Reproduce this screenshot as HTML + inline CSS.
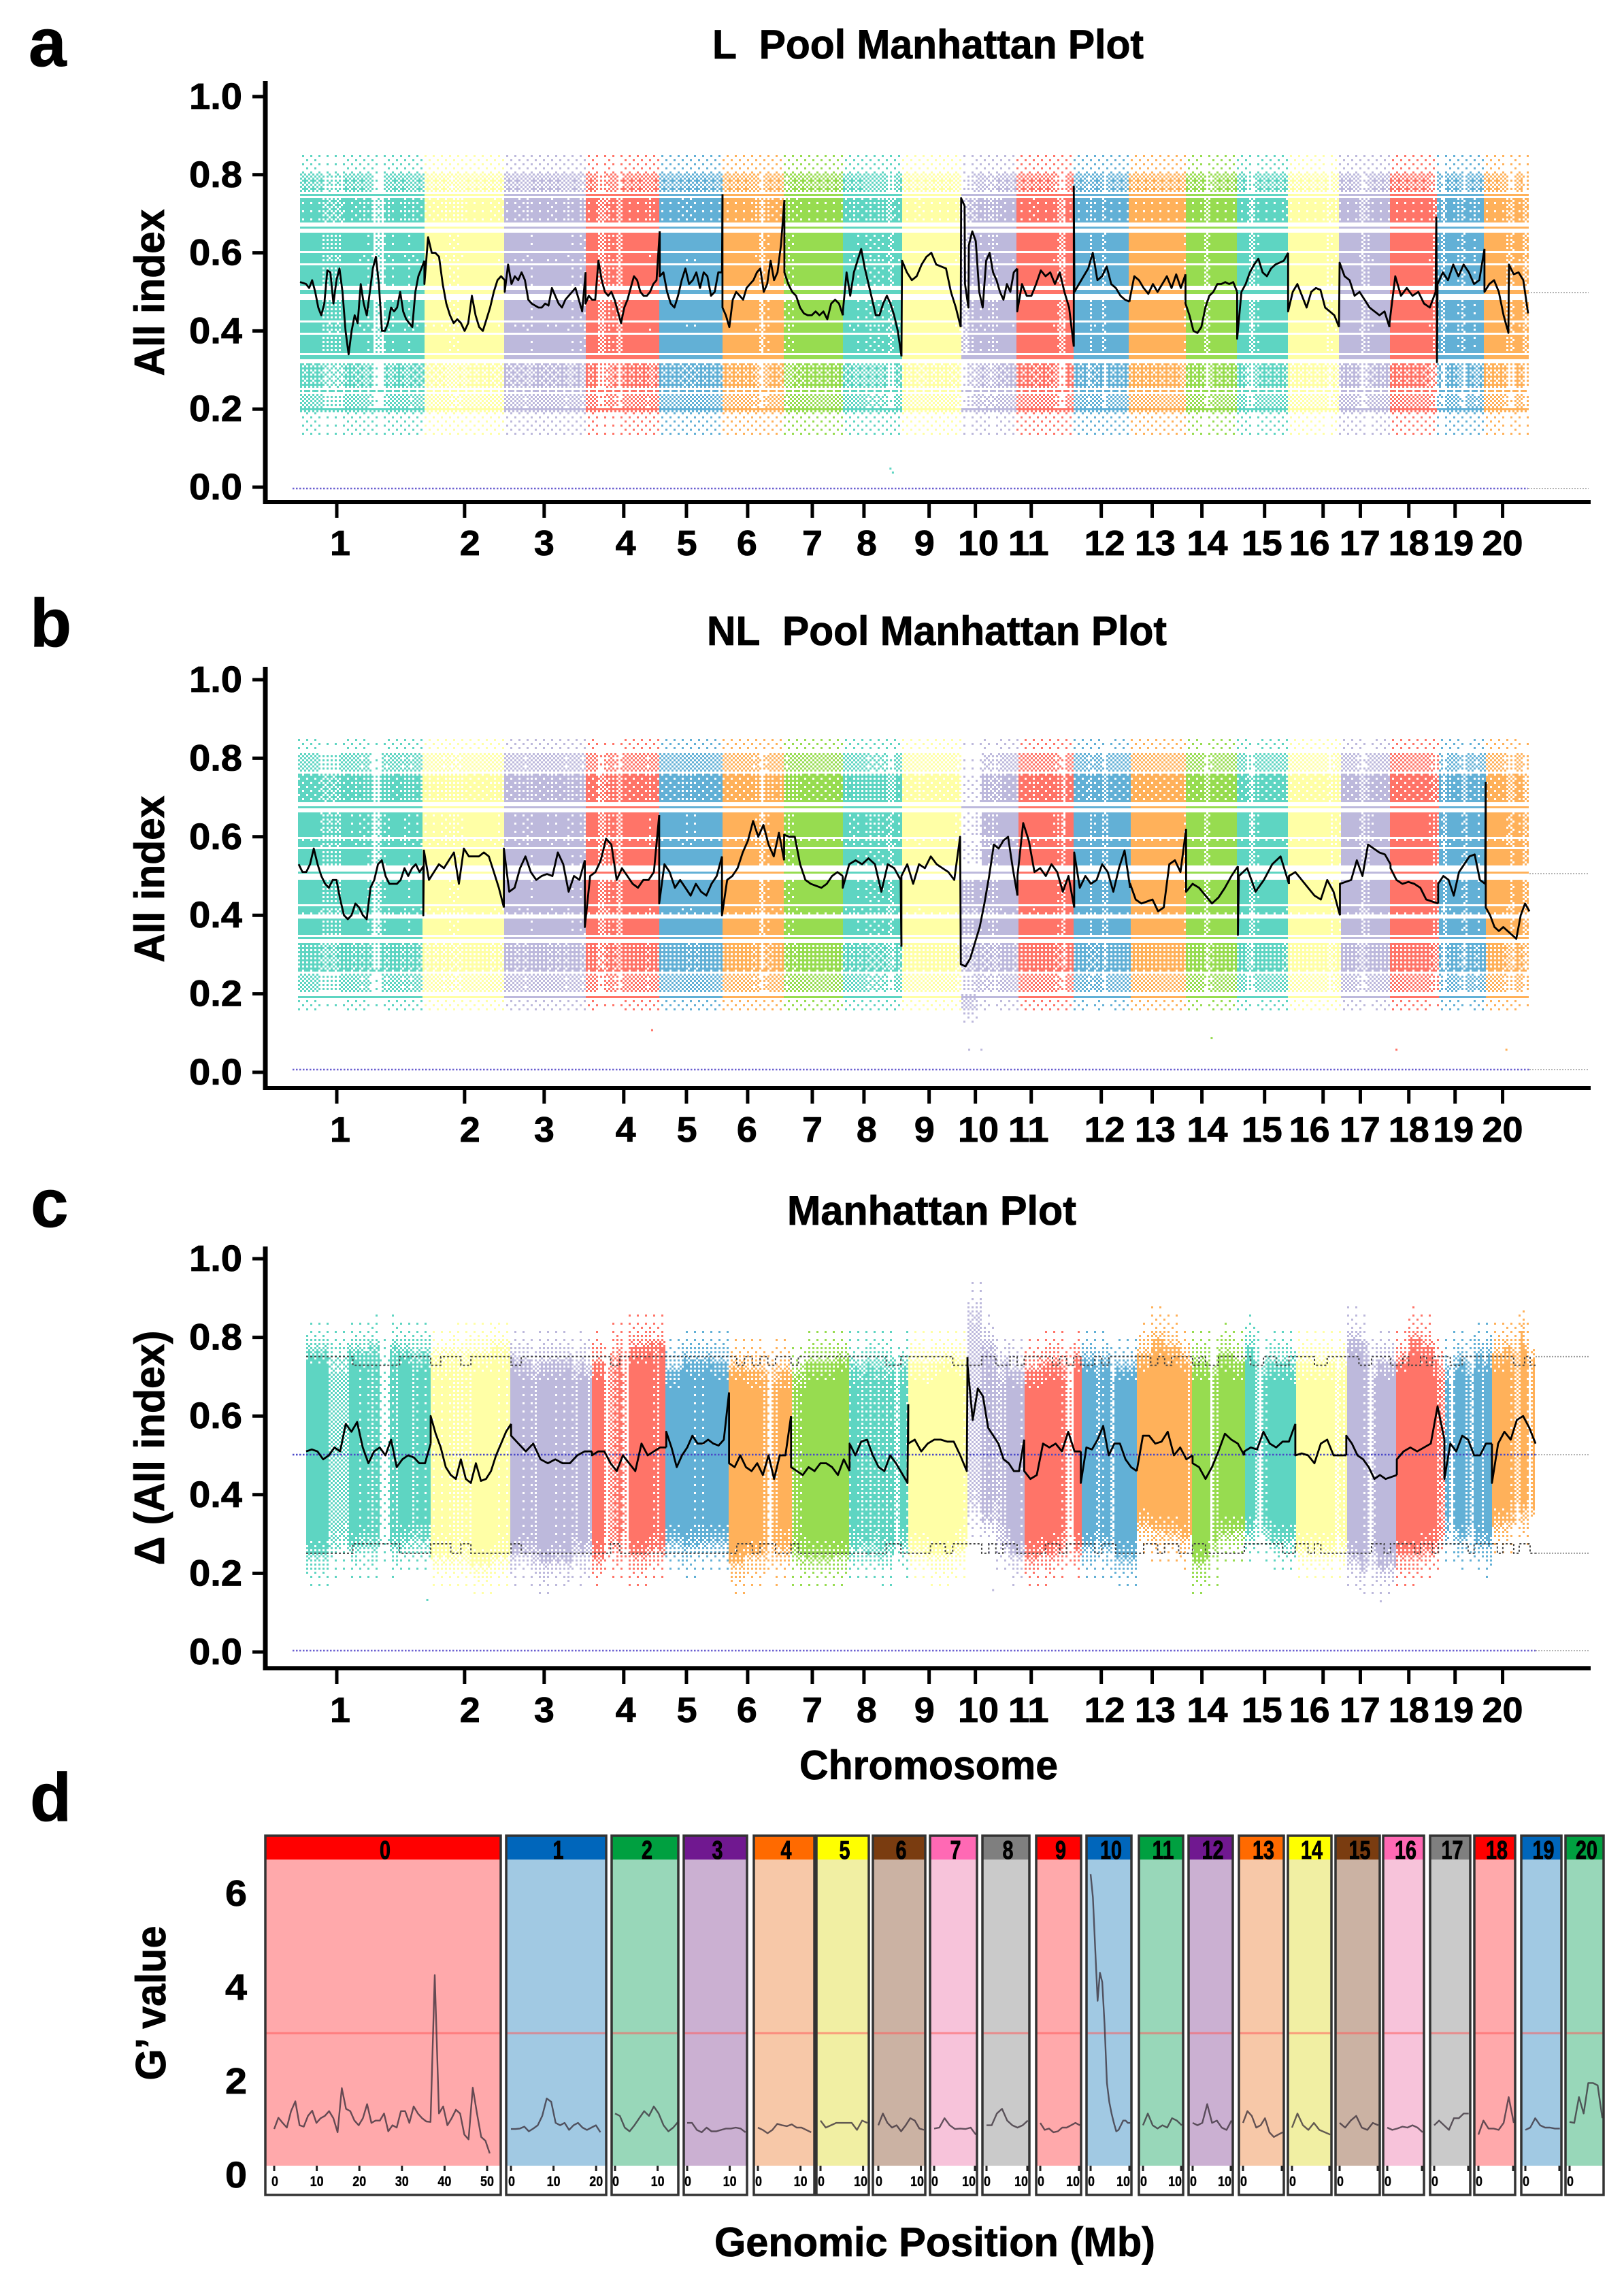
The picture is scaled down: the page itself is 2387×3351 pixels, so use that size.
<!DOCTYPE html>
<html lang="en">
<head>
<meta charset="utf-8">
<title>Manhattan plots and G' value plot</title>
<style>
html,body{margin:0;padding:0;background:#fff}
svg{display:block;position:absolute;left:0;top:0}
text{font-family:"Liberation Sans",Arial,sans-serif;font-weight:bold;fill:#000;stroke:#000;stroke-width:.8px}
</style>
</head>
<body>
<svg id="figure" xmlns="http://www.w3.org/2000/svg" width="2387" height="3351" viewBox="0 0 2387 3351">
  <rect x="0" y="0" width="2387" height="3351" fill="#fff"/>
  <g id="panel-a"></g>
  <g id="panel-b"></g>
  <g id="panel-c"></g>
  <g id="panel-d"></g>

  <text x="42" y="97" font-size="100">a</text>
  <text x="44" y="950" font-size="100">b</text>
  <text x="45" y="1803" font-size="100">c</text>
  <text x="44" y="2676" font-size="100">d</text>

  <text x="1047" y="86" font-size="60" textLength="634" lengthAdjust="spacingAndGlyphs">L&#160; Pool Manhattan Plot</text>
  <text x="1039" y="948" font-size="60" textLength="676" lengthAdjust="spacingAndGlyphs">NL&#160; Pool Manhattan Plot</text>
  <text x="1157" y="1800" font-size="60" textLength="425" lengthAdjust="spacingAndGlyphs">Manhattan Plot</text>

  <text transform="translate(241,430) rotate(-90)" text-anchor="middle" font-size="62" textLength="245" lengthAdjust="spacingAndGlyphs">All index</text>
  <text transform="translate(241,1292) rotate(-90)" text-anchor="middle" font-size="62" textLength="245" lengthAdjust="spacingAndGlyphs">All index</text>
  <text transform="translate(241,2128) rotate(-90)" text-anchor="middle" font-size="62" textLength="345" lengthAdjust="spacingAndGlyphs">Δ (All index)</text>
  <text transform="translate(243,2944) rotate(-90)" text-anchor="middle" font-size="62" textLength="227" lengthAdjust="spacingAndGlyphs">G’ value</text>

  <text x="1175" y="2615" font-size="60" textLength="380" lengthAdjust="spacingAndGlyphs">Chromosome</text>
  <text x="1050" y="3316" font-size="60" textLength="648" lengthAdjust="spacingAndGlyphs">Genomic Position (Mb)</text>
</svg>

<script>
/* ---------- chromosome data (Mb) ---------- */
const chromLengths = [50.8,32.8,33,30.3,25.6,25.3,23.9,23.9,24.2,23.1,23.1,22.8,22.8,21.1,20.8,20.8,20.6,19.4,19.4,17.8];
const chromLabels = ['1','2','3','4','5','6','7','8','9','10','11','12','13','14','15','16','17','18','19','20'];
const tickMb = [15,67.2,99.7,132.2,157.8,182.8,209.2,230.3,256.9,275.8,298.6,327.2,348,368.3,393.9,417.8,433,452.8,471.7,491.1];
const labelMb = [16.4,69.4,99.7,133,158,182.5,209.2,231.4,255,277,297.5,328.6,349.2,370.5,392.8,412.2,432.8,452.8,471,491.1];
const yTickValues = [0,0.2,0.4,0.6,0.8,1];
const yTickLabels = ['0.0','0.2','0.4','0.6','0.8','1.0'];

/* marker density along each chromosome (12 bins, 0..1) */
const markerDensity = [
[1,1,.7,.7,1,.95,.9,.3,.9,1,.9,.95],
[.95,.95,.95,.9,.85,.9,1,1,1,1,.95,.95],
[1,.95,.95,.9,1,1,.95,.95,1,.9,1,.85],
[1,1,.5,.75,.9,.55,1,1,1,1,.9,1],
[1,1,1,1,.95,.95,.95,1,1,1,1,1],
[1,1,1,1,1,1,.9,.3,.85,.95,1,.95],
[.85,.9,.95,1,1,1,1,1,1,1,1,1],
[.95,.95,.9,.95,.9,.85,.9,.85,.9,.6,.95,.95],
[1,1,1,.95,1,1,1,1,1,1,.95,.9],
[.7,.7,.75,.9,.9,.8,.75,.8,.95,1,1,.95],
[1,1,1,.95,1,1,1,.95,.85,.45,1,1],
[1,1,1,.8,.95,1,.6,1,1,1,1,1],
[1,1,1,1,1,1,1,1,1,1,1,.9],
[1,1,1,1,.5,.85,1,1,1,1,1,1],
[1,1,.7,.45,.9,1,1,1,1,1,1,.95],
[1,1,1,1,1,1,1,1,1,.7,.9,.9],
[1,1,1,1,.9,.55,.75,.95,1,1,1,1],
[1,1,1,1,1,1,1,1,1,.95,.8,.7],
[.9,.4,.95,1,1,.85,.6,1,1,.85,1,1],
[1,1,1,1,1,.9,.65,.55,1,.95,.45,.9]];

/* horizontal allele-index strata in panels a and b */
const rowHighA = [.848,.801,.7525,.740,.6675,.652,.600,.568,.5035,.481,.421,.388,.3355,.316,.2505,.241,.2005,.190];
const rowLowA  = [.801,.758,.7455,.679,.6605,.606,.574,.518,.4965,.427,.394,.344,.3285,.255,.2435,.203,.1935,.133];
const rowDensA = [.12,.56,1,.88,1,1,.94,1,1,1,.94,1,1,.66,.85,.5,.7,.1];
const rowHighB = [.855,.812,.761,.6775,.662,.594,.569,.5125,.488,.424,.394,.3465,.329,.2615,.249,.1965,.19];
const rowLowB  = [.817,.765,.690,.6705,.600,.575,.526,.5055,.430,.400,.352,.3395,.263,.2545,.207,.1895,.155];
const rowDensB = [.1,.5,.82,1,.95,.9,1,1,1,.9,1,1,.72,.85,.5,.7,.09];
const rowSolidMin = 0.0125;

/* envelope of the delta scatter in panel c (4 bins per chromosome) */
const deltaTop = [
[.77,.77,.79,.77],[.76,.77,.76,.78],[.75,.74,.75,.74],[.74,.78,.78,.79],[.72,.75,.75,.74],
[.73,.72,.73,.72],[.72,.74,.74,.75],[.74,.75,.75,.74],[.74,.74,.75,.75],[.90,.80,.75,.72],
[.72,.74,.74,.75],[.75,.75,.73,.73],[.76,.80,.78,.75],[.74,.74,.76,.74],[.78,.74,.74,.74],
[.74,.74,.74,.75],[.80,.79,.75,.74],[.75,.80,.78,.75],[.74,.75,.76,.76],[.76,.78,.82,.78]];
const deltaBottom = [
[.25,.27,.26,.28],[.24,.23,.22,.24],[.25,.23,.23,.25],[.24,.25,.25,.26],[.28,.27,.28,.28],
[.23,.25,.24,.26],[.24,.24,.24,.25],[.26,.25,.24,.27],[.26,.25,.25,.26],[.36,.33,.27,.25],
[.24,.25,.26,.26],[.27,.27,.24,.24],[.32,.31,.30,.29],[.23,.24,.30,.31],[.30,.30,.28,.28],
[.26,.26,.26,.26],[.24,.21,.21,.22],[.25,.25,.26,.27],[.30,.29,.28,.27],[.32,.33,.34,.35]];

/* threshold step flags, 8 bins per chromosome */
const upperDips = [
[0,0,0,1,1,1,0,0],[1,0,0,1,0,0,0,0],[1,0,0,0,0,0,0,0],[0,0,1,0,0,0,0,0],[0,0,0,0,0,0,0,0],
[0,1,0,1,0,1,0,0],[1,0,0,0,0,0,0,0],[0,0,0,0,0,1,1,0],[0,0,0,0,0,0,1,1],[1,1,0,0,1,1,0,1],
[0,0,0,0,1,0,1,0],[1,1,0,1,0,0,0,0],[0,0,1,0,1,0,0,0],[1,0,1,1,0,0,0,0],[0,1,1,0,0,1,1,0],
[0,0,0,1,1,0,0,0],[0,0,1,1,0,0,0,1],[1,0,1,1,0,1,0,0],[0,1,1,0,0,0,0,0],[0,0,0,0,1,1,0,1]];
const lowerBumps = [
[0,0,0,1,1,1,0,0],[1,1,0,1,0,0,0,0],[1,0,0,0,0,0,0,0],[0,0,1,0,0,0,0,0],[0,0,0,0,0,0,0,0],
[0,1,1,0,1,1,0,0],[1,0,0,0,0,0,0,0],[0,0,0,0,0,1,1,0],[0,0,0,1,1,0,1,1],[1,1,0,1,0,1,1,0],
[0,0,0,1,1,0,1,1],[1,1,0,1,1,0,0,0],[0,1,1,0,1,1,0,0],[1,1,0,0,0,0,0,0],[1,1,1,1,1,1,0,0],
[1,1,0,1,0,0,0,0],[0,0,0,0,1,1,0,1],[1,1,1,0,1,1,0,1],[1,1,1,1,0,1,1,1],[1,0,1,1,0,1,1,0]];

/* sliding-window trend, one list per chromosome */
const trendA = [
[.525,.523,.52,.51,.53,.50,.46,.44,.47,.555,.55,.47,.53,.56,.50,.40,.34,.40,.44,.42,.52,.47,.44,.50,.56,.59,.52,.40,.40,.42,.46,.45,.46,.50,.45,.43,.42,.41,.50,.54,.56,.58],
[.52,.64,.60,.60,.59,.52,.47,.44,.42,.43,.42,.40,.42,.49,.44,.41,.40,.43,.46,.50,.53,.54,.53],
[.50,.57,.52,.54,.53,.55,.53,.48,.47,.465,.46,.46,.47,.465,.51,.49,.47,.46,.48,.49,.50,.51,.48,.45,.55],
[.47,.49,.48,.48,.58,.53,.50,.49,.50,.48,.45,.42,.46,.48,.51,.54,.53,.50,.49,.49,.50,.52,.53,.655],
[.54,.55,.50,.47,.46,.49,.53,.56,.52,.53,.55,.51,.55,.54,.49,.50,.55,.55,.75],
[.46,.44,.41,.48,.50,.49,.48,.51,.52,.53,.55,.56,.50,.52,.58,.53,.55,.62,.735],
[.55,.52,.50,.49,.46,.445,.44,.44,.45,.44,.45,.43,.47,.48,.47,.44],
[.45,.55,.49,.55,.58,.61,.56,.52,.48,.44,.44,.47,.49,.47,.44,.40,.335],
[.335,.58,.55,.53,.54,.57,.59,.60,.57,.565,.56,.50,.46,.41],
[.41,.74,.72,.52,.46,.62,.655,.63,.50,.46,.58,.60,.55,.53,.50,.48,.52,.50,.55,.56],
[.45,.52,.49,.49,.52,.555,.54,.55,.52,.55,.50,.46,.36],
[.77,.50,.52,.54,.56,.60,.53,.54,.565,.52,.51,.49,.48,.475],
[.48,.54,.53,.51,.495,.52,.50,.52,.54,.51,.545,.51,.545],
[.47,.44,.40,.395,.41,.46,.49,.50,.52,.52,.525,.52,.525,.50],
[.38,.50,.52,.55,.57,.585,.55,.54,.56,.57,.575,.58,.60],
[.45,.50,.52,.49,.46,.50,.51,.505,.46,.45,.44,.41],
[.41,.575,.54,.53,.49,.50,.48,.46,.45,.44,.45,.41],
[.42,.54,.49,.51,.49,.50,.47,.46,.50,.69,.40],
[.32,.52,.55,.53,.57,.54,.57,.55,.52,.53,.61],
[.50,.52,.53,.50,.44,.395,.57,.545,.55,.53,.445]];

const trendB = [
[.53,.51,.51,.53,.57,.53,.50,.48,.47,.49,.49,.44,.40,.39,.40,.43,.42,.40,.39,.47,.49,.53,.54,.50,.48,.48,.48,.49,.52,.50,.52,.53,.51,.525],
[.40,.565,.49,.51,.53,.52,.54,.56,.48,.57,.55,.55,.55,.56,.55,.51,.47,.42],
[.57,.46,.47,.52,.55,.51,.49,.50,.505,.50,.56,.53,.46,.50,.49,.54],
[.37,.50,.51,.54,.595,.58,.49,.52,.50,.48,.47,.49,.49,.51,.655],
[.43,.53,.51,.47,.49,.47,.45,.48,.46,.45,.48,.50,.55],
[.40,.49,.50,.52,.56,.59,.64,.60,.63,.58,.55,.61,.54],
[.605,.60,.60,.53,.49,.48,.475,.47,.48,.50,.51,.50],
[.47,.53,.54,.53,.545,.53,.46,.53,.52,.49,.32],
[.50,.53,.48,.53,.52,.55,.53,.52,.51,.49,.60,.28],
[.275,.27,.29,.33,.37,.43,.50,.58,.57,.59,.60,.52,.45],
[.50,.635,.59,.51,.52,.50,.53,.51,.46,.50,.42],
[.56,.47,.50,.48,.49,.53,.51,.46,.52,.565,.47],
[.48,.44,.43,.435,.44,.41,.42,.53,.54,.51,.62],
[.46,.48,.47,.45,.43,.445,.47,.50,.525],
[.35,.50,.52,.46,.49,.53,.55,.48],
[.50,.51,.49,.47,.45,.44,.49,.46,.40],
[.48,.485,.49,.54,.50,.58,.57,.56,.555,.53],
[.52,.49,.48,.485,.48,.47,.44,.435,.43],
[.48,.50,.49,.45,.51,.53,.55,.555,.49,.48,.74],
[.42,.40,.37,.36,.37,.36,.35,.34,.40,.43,.41]];

const trendC = [
[.51,.515,.51,.49,.50,.52,.51,.58,.56,.585,.52,.48,.51,.52,.50,.54,.47,.49,.50,.495,.48,.48,.53],
[.60,.555,.52,.47,.45,.44,.49,.44,.43,.48,.435,.44,.46,.50,.53,.56,.58],
[.55,.53,.51,.53,.49,.48,.49,.48,.48,.50,.51,.51],
[.50,.51,.51,.48,.46,.50,.48,.46,.53,.50,.51,.52,.52],
[.56,.52,.47,.50,.52,.55,.53,.53,.54,.53,.525,.54,.66],
[.48,.47,.50,.47,.46,.48,.45,.50,.44,.50,.50,.60],
[.47,.46,.45,.47,.46,.48,.48,.47,.45,.49,.46],
[.53,.50,.535,.54,.50,.47,.46,.50,.48,.455,.43,.63],
[.53,.54,.51,.53,.54,.54,.535,.535,.50,.46,.75],
[.73,.59,.67,.65,.57,.55,.53,.49,.48,.46,.46,.54],
[.46,.44,.45,.53,.52,.53,.51,.56,.51,.51],
[.43,.52,.515,.54,.575,.50,.53,.53,.49,.47,.46],
[.46,.55,.55,.53,.535,.56,.50,.52,.49,.50],
[.48,.47,.44,.47,.51,.555,.54,.53,.50],
[.51,.52,.515,.56,.53,.52,.535,.535,.58],
[.50,.505,.50,.48,.53,.54,.50,.50,.50],
[.55,.53,.50,.49,.47,.44,.45,.44,.445,.45],
[.49,.51,.52,.51,.52,.53,.625,.54],
[.44,.53,.51,.55,.54,.50,.50,.53,.53],
[.43,.53,.56,.54,.59,.60,.57,.53]];

/* isolated scatter outliers: chromosome index, Mb within chromosome, value */
const outlierChromA = [7,7]; const outlierMbA = [19,20]; const outlierValA = [.05,.04];
const outlierChromB = [3,9,9,13,17,19]; const outlierMbB = [27,3,8,10,2,8]; const outlierValB = [.11,.06,.06,.09,.06,.06];
const outlierChromC = [0,9]; const outlierMbC = [49,10]; const outlierValC = [.135,.16];

/* facet data for panel d */
const facetLabels = ['0','1','2','3','4','5','6','7','8','9','10','11','12','13','14','15','16','17','18','19','20'];
const gLengthMb = [50.6,21,14.8,13.7,12.5,11,10.7,9.8,9.7,9.3,9.3,9.1,9.1,9.3,9,9.1,8.3,8.1,8.3,8.1,7.7];
const gTickMb = [0,10,20,30,40,50];
const gYTicks = [0,2,4,6];
const gThreshold = 3.01;
const gPrime = [
[.97,1.21,1.1,1.0,1.35,1.56,1.05,1.02,1.25,1.36,1.1,1.2,1.25,1.35,1.2,.9,1.84,1.4,1.35,1.15,1.05,1.2,1.5,1.1,1.15,1.15,1.3,.92,1.05,1.0,1.35,1.35,1.1,1.45,1.3,1.2,1.13,1.12,4.25,1.3,1.45,1.05,1.2,1.38,1.3,.85,.75,1.85,1.3,.8,.72,.45],
[.97,.97,.98,1.02,.92,.98,1.05,1.25,1.62,1.55,1.1,1.05,1.1,.95,1.05,1.1,1.0,.95,1.0,1.05,.9],
[1.3,1.25,1.0,.92,1.05,1.2,1.35,1.25,1.45,1.3,1.05,.92,1.0,1.12],
[1.1,1.1,.95,.9,1.0,.92,.92,.95,.98,.98,1.0,.98,.9],
[1.0,.95,.88,.95,1.08,1.05,1.03,1.07,1.0,1.0,.95,.9],
[1.15,1.0,1.05,1.1,1.1,1.1,1.1,.95,1.15,1.1],
[1.05,1.3,1.1,1.0,1.05,.92,1.05,1.2,1.15,.98,.95],
[.98,1.0,1.2,1.05,.97,.98,.97,1.0,.85],
[1.05,1.05,1.3,1.4,1.15,1.05,1.0,1.05,1.15],
[1.1,.95,.98,.9,.92,1.0,1.0,1.05,1.1,1.05],
[6.4,5.9,4.8,3.7,4.3,4.1,3.2,1.95,1.55,1.3,1.1,.92,.95,1.05,1.15,1.15,1.1,1.1],
[1.05,1.3,1.05,.98,1.05,1.0,1.2,1.15,1.05],
[1.1,1.05,1.1,1.5,1.1,1.15,1.0,.95,1.15],
[1.1,1.35,1.25,1.0,1.05,1.2,.9,.8,.85,.9],
[1.0,1.3,1.05,.95,1.1,.95,.9,.85],
[1.1,1.0,1.15,1.25,1.0,.95,1.1,1.05],
[1.0,.95,.98,1.02,1.0,1.05,1.0,.9],
[1.05,1.15,1.05,.95,1.2,1.2,1.3,1.3],
[.85,1.15,.98,.98,.95,1.1,1.65,1.1],
[.95,1.0,1.2,1.05,1.0,1.0,.98,.98],
[1.12,1.1,1.65,1.3,1.95,1.95,1.9,1.2]];

/* ---------- style and layout ---------- */
const SVG_NS = 'http://www.w3.org/2000/svg';
const bandColors = ['#5ed5c2','#ffffa6','#bdb9dc','#ff7468','#62b0d6','#ffb15a','#97dc50'];
const stripColors = ['#ff0000','#0066bb','#00a040','#701890','#ff6a00','#ffff00','#7a3c10','#ff69b4','#7f7f7f'];
const facetFills = ['#ffa9ab','#a1c9e3','#98d7b9','#cbb0d2','#f7c8a8','#f1efa3','#cbb2a3','#f7c3da','#cacaca'];
const layoutFacetLeft = [390,744,899,1005,1108,1200,1283,1367,1444,1523,1597,1674,1747,1821,1893,1963,2033,2102,2167,2236,2301];
const layoutFacetRight = [736,891,997,1098,1197,1277,1360,1436,1513,1589,1663,1739,1812,1887,1957,2028,2093,2161,2227,2295,2357];
const layoutFacetPad = [13,7,5,5,6,6,8,6,6,6,6,6,6,6,6,6,6,6,6,6,6];
const bayer = [[0,8,2,10],[12,4,14,6],[3,11,1,9],[15,7,13,5]];
const totalMb = chromLengths.reduce((a, b) => a + b, 0);

function make(tag, attrs, parent) {
  const el = document.createElementNS(SVG_NS, tag);
  for (const k in attrs) el.setAttribute(k, attrs[k]);
  parent.appendChild(el);
  return el;
}
function chromStart(i) {
  let s = 0;
  for (let k = 0; k < i; k++) s += chromLengths[k];
  return s;
}
function axisXA(mb) { return 441 + mb / totalMb * 1805; }

/* ---------- scatter drawn from density arrays via ordered dither ---------- */
function densityBin(i, f) {
  const arr = markerDensity[i];
  return arr[Math.min(arr.length - 1, Math.floor(f * arr.length))];
}
function addRun(parts, x, y, w, h) {
  parts.push('M' + x + ' ' + y + 'h' + w + 'v' + h + 'h' + (-w) + 'z');
}
function stratifiedPath(cfg, i, x0, x1) {
  const parts = [];
  const step = 3;
  for (let r = 0; r < cfg.rowHigh.length; r++) {
    const hi = cfg.rowHigh[r], lo = cfg.rowLow[r], dens = cfg.rowDens[r];
    const solid = (hi - lo) < rowSolidMin;
    const yTop = Math.round(cfg.y(hi) / step) * step;
    const yBot = Math.max(yTop + step, Math.round(cfg.y(lo) / step) * step);
    for (let py = yTop; py < yBot; py += step) {
      const iy = py / step & 3;
      const v = cfg.yInv(py);
      let run = -1;
      for (let px = x0; px <= x1; px += step) {
        const ix = Math.round(px / step) & 3;
        const f = (px - x0) / Math.max(1, x1 - x0);
        const cd = densityBin(i, f);
        let d = solid ? dens : dens * (dens < .7 ? cd * cd : cd);
        if (!solid && cfg.sparseChrom === i && f < cfg.sparseTo && v > cfg.sparseAbove) d *= cfg.sparseFactor;
        const on = px < x1 && d * 16 > bayer[iy][ix];
        if (on && run < 0) run = px;
        if (!on && run >= 0) { addRun(parts, run, py, px - run, step); run = -1; }
      }
    }
  }
  if (cfg.extraChrom === i) {
    const yStart = Math.round(cfg.y(cfg.extraHigh) / step) * step;
    const yStop = cfg.y(cfg.extraLow);
    const xStop = (x1 - x0) * cfg.extraTo;
    for (let py = yStart; py < yStop; py += step) {
      const iy = py / step & 3;
      const depth = (py - yStart) / (yStop - yStart);
      for (let px = x0; px < x0 + xStop; px += step) {
        const along = (px - x0) / xStop;
        const d = cfg.extraDens * (1 - depth) * (along < .6 ? 1 : (1 - along) / .4);
        if (d * 16 > bayer[iy][Math.round(px / step) & 3]) addRun(parts, px, py, step, step);
      }
    }
  }
  return parts.join('');
}
function envelopePath(cfg, i, x0, x1) {
  const parts = [];
  const step = 3;
  const tail = 0.08;
  const fade = 0.055;
  const yTop = Math.round(cfg.y(0.95) / step) * step;
  const yBot = Math.round(cfg.y(0.12) / step) * step;
  for (let py = yTop; py < yBot; py += step) {
    const iy = py / step & 3;
    const v = cfg.yInv(py);
    let run = -1;
    for (let px = x0; px <= x1; px += step) {
      const ix = Math.round(px / step) & 3;
      const f = Math.min(.999, (px - x0) / Math.max(1, x1 - x0));
      const cd = densityBin(i, f);
      const q = Math.floor(f * 4);
      const hi = .5 + (deltaTop[i][q] - .5) * (.72 + .28 * cd);
      const lo = .5 - (.5 - deltaBottom[i][q]) * (.72 + .28 * cd);
      let d = 0;
      if (v <= hi && v >= lo) {
        const edge = Math.min(hi - v, v - lo);
        d = cd * cd * Math.min(1, .62 + .38 * edge / fade);
      } else if (v > hi && v < hi + tail) {
        const t = 1 - (v - hi) / tail;
        d = .42 * t * t * cd;
      } else if (v < lo && v > lo - tail) {
        const t = 1 - (lo - v) / tail;
        d = .42 * t * t * cd;
      }
      const on = px < x1 && d * 16 > bayer[iy][ix];
      if (on && run < 0) run = px;
      if (!on && run >= 0) { addRun(parts, run, py, px - run, step); run = -1; }
    }
  }
  return parts.join('');
}

/* ---------- one Manhattan panel ---------- */
function drawManhattan(cfg) {
  const g = document.getElementById(cfg.id);
  const x = mb => cfg.x0 + mb / totalMb * cfg.w;

  const scatter = make('g', {}, g);
  
  
  chromLengths.forEach((len, i) => {
    const s = chromStart(i);
    const x0 = Math.round(x(s) / 3) * 3;
    const x1 = Math.round(x(s + len) / 3) * 3;
    const d = cfg.rowHigh ? stratifiedPath(cfg, i, x0, x1) : envelopePath(cfg, i, x0, x1);
    const band = make('path', { d: d, fill: bandColors[i % 7], 'shape-rendering': 'crispEdges' }, scatter);
    
    
  });

  cfg.outlierChrom.forEach((c, k) => {
    const dot = make('rect', { x: x(chromStart(c) + cfg.outlierMb[k]), y: cfg.y(cfg.outlierVal[k]), width: 3, height: 3, fill: bandColors[c % 7] }, scatter);
    
    
  });

  /* reference lines */
  const xEnd = x(totalMb);
  const lineRight = 2335;
  const zero = make('line', { x1: 430, x2: xEnd, y1: cfg.zeroY, y2: cfg.zeroY, stroke: '#6a5fd0', 'stroke-width': 2.5, 'stroke-dasharray': '2.5 2.5' }, g);
  
  
  const zeroExt = make('line', { x1: xEnd, x2: lineRight, y1: cfg.zeroY, y2: cfg.zeroY, stroke: '#b5b5b5', 'stroke-width': 2, 'stroke-dasharray': '2 2' }, g);
  
  
  const midExt = make('line', { x1: xEnd, x2: lineRight, y1: cfg.midY, y2: cfg.midY, stroke: '#b5b5b5', 'stroke-width': 2, 'stroke-dasharray': '2 2' }, g);
  
  

  if (cfg.showThreshold) {
    const mid = make('line', { x1: 430, x2: xEnd, y1: cfg.midY, y2: cfg.midY, stroke: '#4a48c8', 'stroke-width': 2.5, 'stroke-dasharray': '2.5 2.5' }, g);
    
    
    [['upper', upperDips, .751, -.022], ['lower', lowerBumps, .251, .024]].forEach(t => {
      let d = '';
      chromLengths.forEach((len, i) => {
        const s = chromStart(i);
        t[1][i].forEach((flag, b) => {
          const yy = cfg.y(t[2] + flag * t[3]);
          const xa = x(s + len * b / 8), xb = x(s + len * (b + 1) / 8);
          d += (d ? 'L' : 'M') + xa + ' ' + yy + 'L' + xb + ' ' + yy;
        });
      });
      const th = make('path', { d: d, fill: 'none', stroke: '#444', 'stroke-width': 2, 'stroke-dasharray': '3 3' }, g);
      
      
      const ext = make('line', { x1: xEnd, x2: lineRight, y1: cfg.y(t[2]), y2: cfg.y(t[2]), stroke: '#999', 'stroke-width': 2, 'stroke-dasharray': '2 2' }, g);
      
      
    });
  }

  /* trend: each chromosome starts with a vertical jump from the previous one's last value */
  cfg.trend.forEach((vals, i) => {
    const s = chromStart(i), len = chromLengths[i];
    const weights = [];
    let tot = 0;
    for (let k = 1; k < vals.length; k++) {
      const w = Math.abs(vals[k] - vals[k - 1]) > 0.15 ? 0.12 : 1;
      weights.push(w); tot += w;
    }
    let acc = 0;
    let d = '';
    if (i > 0) {
      const prev = cfg.trend[i - 1];
      d = 'M' + x(s).toFixed(1) + ' ' + cfg.y(prev[prev.length - 1]).toFixed(1);
    }
    vals.forEach((v, k) => {
      if (k > 0) acc += weights[k - 1];
      d += (d ? 'L' : 'M') + x(s + len * acc / tot).toFixed(1) + ' ' + cfg.y(v).toFixed(1);
    });
    const p = make('path', { d: d, fill: 'none', stroke: '#000', 'stroke-width': 2.8, 'stroke-linejoin': 'round' }, g);
    
    
  });

  /* axes */
  const yAxis = make('line', { x1: 390, x2: 390, y1: cfg.axisTop, y2: cfg.axisY + 3, stroke: '#000', 'stroke-width': 7 }, g);
  
  
  const xAxis = make('line', { x1: 387, x2: 2338, y1: cfg.axisY, y2: cfg.axisY, stroke: '#000', 'stroke-width': 6 }, g);
  
  

  yTickValues.forEach((v, k) => {
    const ty = cfg.y(v);
    const tick = make('line', { x1: 371, x2: 390, y1: ty, y2: ty, stroke: '#000', 'stroke-width': 5 }, g);
    
    
    const lab = make('text', { x: 278, y: ty + 18, 'font-size': 54, textLength: 78, lengthAdjust: 'spacingAndGlyphs' }, g);
    lab.textContent = yTickLabels[k];
    
    
  });

  tickMb.forEach((mb, k) => {
    const tx = axisXA(mb);
    const tick = make('line', { x1: tx, x2: tx, y1: cfg.axisY, y2: cfg.axisY + 23, stroke: '#000', 'stroke-width': 5 }, g);
    
    
    const w = chromLabels[k].length * 30;
    const lab = make('text', { x: axisXA(labelMb[k]) - w / 2, y: cfg.labelY, 'font-size': 52, textLength: w, lengthAdjust: 'spacingAndGlyphs' }, g);
    lab.textContent = chromLabels[k];
    
    
  });
}

function linearY(zero, k) {
  return { y: v => zero - k * v, yInv: p => (zero - p) / k };
}

drawManhattan(Object.assign({
  id: 'panel-a', x0: 441, w: 1805, zeroY: 718, midY: 430, axisTop: 119, axisY: 738, labelY: 816,
  rowHigh: rowHighA, rowLow: rowLowA, rowDens: rowDensA, trend: trendA,
  sparseChrom: 9, sparseTo: .12, sparseAbove: -1, sparseFactor: .55,
  outlierChrom: outlierChromA, outlierMb: outlierMbA, outlierVal: outlierValA
}, linearY(716, 574)));

drawManhattan(Object.assign({
  id: 'panel-b', x0: 439, w: 1809, zeroY: 1572, midY: 1284, axisTop: 980, axisY: 1599, labelY: 1678,
  rowHigh: rowHighB, rowLow: rowLowB, rowDens: rowDensB, trend: trendB,
  sparseChrom: 9, sparseTo: .33, sparseAbove: .52, sparseFactor: .15,
  extraChrom: 9, extraTo: .3, extraHigh: .2, extraLow: .125, extraDens: .7,
  outlierChrom: outlierChromB, outlierMb: outlierMbB, outlierVal: outlierValB
}, linearY(1576, 577)));

drawManhattan(Object.assign({
  id: 'panel-c', x0: 450, w: 1807, zeroY: 2426, midY: 2138, axisTop: 1832, axisY: 2452, labelY: 2531,
  trend: trendC, showThreshold: true,
  outlierChrom: outlierChromC, outlierMb: outlierMbC, outlierVal: outlierValC
}, linearY(2428, 578)));

/* ---------- panel d ---------- */
(function drawFacets() {
  const g = document.getElementById('panel-d');
  const gy = v => 3196 - 69 * v;
  const top = 2698, stripBottom = 2733, plotBottom = 3183, boxBottom = 3226;
  const mbPx = 6.26;

  gYTicks.forEach(v => {
    const lab = make('text', { x: 331, y: gy(v) + 19, 'font-size': 54, textLength: 32, lengthAdjust: 'spacingAndGlyphs' }, g);
    lab.textContent = String(v);
    
    
  });

  facetLabels.forEach((name, f) => {
    const left = layoutFacetLeft[f], right = layoutFacetRight[f], pad = layoutFacetPad[f];
    const colorIdx = f % 9;
    const fg = make('g', {}, g);
    
    

    const plot = make('rect', { x: left, y: stripBottom, width: right - left, height: plotBottom - stripBottom, fill: facetFills[colorIdx] }, fg);
    
    
    const strip = make('rect', { x: left, y: top, width: right - left, height: stripBottom - top, fill: stripColors[colorIdx] }, fg);
    
    

    const w = name.length * 16;
    const stripText = make('text', { x: (left + right) / 2 - w / 2 + 3, y: 2732, 'font-size': 38, textLength: w, lengthAdjust: 'spacingAndGlyphs' }, fg);
    stripText.textContent = name;
    
    

    const thr = make('line', { x1: left, x2: right, y1: gy(gThreshold), y2: gy(gThreshold), stroke: '#ff5a5a', 'stroke-opacity': .55, 'stroke-width': 3 }, fg);
    
    

    const gx = mb => left + pad + mb * mbPx;
    const vals = gPrime[f];
    const d = vals.map((v, k) => (k ? 'L' : 'M') + gx(k / (vals.length - 1) * gLengthMb[f]).toFixed(1) + ' ' + gy(v).toFixed(1)).join('');
    const line = make('path', { d: d, fill: 'none', stroke: '#3a2f3a', 'stroke-opacity': .78, 'stroke-width': 2.4, 'stroke-linejoin': 'round' }, fg);
    
    

    const box = make('rect', { x: left, y: top, width: right - left, height: boxBottom - top, fill: 'none', stroke: '#333', 'stroke-width': 3.5 }, fg);
    
    

    gTickMb.forEach(mb => {
      let tx = gx(mb);
      if (mb > 10 && tx > right - 1) return;
      if (mb === 10 && f === 20) return;
      tx = Math.min(tx, right - 3);
      const tick = make('line', { x1: tx, x2: tx, y1: plotBottom, y2: plotBottom + 8, stroke: '#222', 'stroke-width': 3 }, fg);
      
      
      if (mb > 0 && f > 12) return;
      const tw = String(mb).length * 10;
      const lab = make('text', { x: Math.min(tx - tw / 2 + (mb === 0 ? 1 : 0), right - tw - 2), y: 3213, 'font-size': 21, textLength: tw, lengthAdjust: 'spacingAndGlyphs', style: 'stroke-width:.3px' }, fg);
      lab.textContent = String(mb);
      
      
    });
  });
})();
</script>
</body>
</html>
